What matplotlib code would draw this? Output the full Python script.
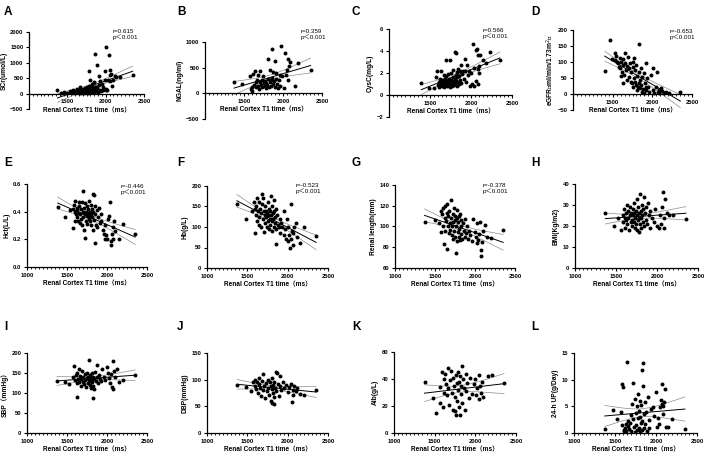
import numpy as np
import matplotlib
matplotlib.use("Agg")
import matplotlib.pyplot as plt
from matplotlib.ticker import MultipleLocator, FixedLocator

plt.rcParams['font.family'] = ['Liberation Sans', 'Noto Sans CJK SC']

# --- data (T1 time in ms, y in panel units) ---
a_x = [1371, 1420, 1460, 1500, 1530, 1560, 1580, 1590, 1600, 1610, 1620, 1630, 1640, 1650, 1655, 1660,
       1670, 1680, 1690, 1700, 1705, 1710, 1720, 1725, 1730, 1740, 1745, 1750, 1755, 1760, 1765, 1770,
       1775, 1780, 1780, 1785, 1790, 1795, 1800, 1800, 1805, 1810, 1815, 1820, 1823, 1825, 1830, 1835,
       1840, 1845, 1850, 1855, 1858, 1860, 1870, 1875, 1880, 1888, 1890, 1900, 1909, 1910, 1920, 1931,
       1940, 1952, 1960, 1970, 1987, 1996, 2000, 2009, 2009, 2017, 2026, 2039, 2052, 2060, 2060, 2073,
       2082, 2100, 2116, 2138, 2190, 2353]
a_y = [130, 20, 60, 30, 90, 40, 120, 60, 20, 100, 150, 50, 80, 10, 130, 60,
       200, 30, 90, 150, 50, 110, 20, 70, 180, 40, 120, 90, 220, 60, 150, 30,
       100, 746, 250, 180, 60, 130, 454, 90, 200, 40, 160, 300, 259, 110, 70, 190,
       130, 368, 50, 230, 1286, 100, 150, 216, 80, 940, 170, 60, 584, 280, 120, 400,
       90, 324, 200, 110, 724, 454, 160, 1524, 130, 108, 454, 1265, 605, 757, 400, 649,
       259, 450, 562, 540, 540, 616]

b_x = [1372, 1479, 1573, 1594, 1598, 1607, 1615, 1624, 1637, 1650, 1658, 1667, 1680, 1684, 1693, 1701,
       1710, 1714, 1727, 1735, 1744, 1752, 1765, 1769, 1782, 1786, 1799, 1808, 1808, 1820, 1829, 1837,
       1842, 1850, 1863, 1863, 1872, 1872, 1884, 1893, 1897, 1914, 1914, 1927, 1936, 1948, 1957, 1966,
       1979, 1991, 2013, 2021, 2043, 2051, 2064, 2064, 2077, 2085, 2150, 2192, 2354]
b_y = [222, 190, 342, 76, 44, 127, 380, 171, 443, 215, 127, 266, 361, 152, 89, 215,
       443, 171, 266, 127, 329, 203, 152, 247, 108, 203, 171, 677, 279, 127, 215, 456,
       253, 152, 867, 298, 424, 190, 234, 633, 127, 393, 279, 190, 108, 266, 361, 152,
       930, 329, 108, 785, 361, 456, 677, 266, 532, 614, 152, 595, 456]

c_x = [1394, 1488, 1545, 1577, 1585, 1600, 1610, 1615, 1620, 1630, 1638, 1640, 1650, 1655, 1660, 1665,
       1670, 1675, 1680, 1685, 1690, 1699, 1700, 1705, 1710, 1715, 1720, 1725, 1730, 1735, 1740, 1742,
       1748, 1750, 1755, 1760, 1765, 1770, 1775, 1780, 1785, 1790, 1795, 1801, 1805, 1810, 1813, 1815,
       1820, 1825, 1830, 1835, 1840, 1845, 1850, 1855, 1860, 1870, 1875, 1880, 1890, 1900, 1910, 1923,
       1930, 1940, 1951, 1960, 1975, 1990, 2000, 2016, 2024, 2032, 2040, 2057, 2065, 2077, 2085, 2085,
       2085, 2097, 2100, 2114, 2146, 2187, 2228, 2353]
c_y = [1.05, 0.62, 0.62, 1.6, 2.2, 0.9, 1.2, 0.7, 1.5, 0.95, 2.15, 1.1, 0.8, 1.4, 1.0, 1.8,
       0.7, 1.2, 1.5, 0.9, 1.1, 3.14, 1.7, 0.8, 1.3, 1.0, 1.9, 1.2, 0.9, 1.5, 3.2, 1.1,
       0.75, 1.4, 2.0, 1.0, 1.3, 0.85, 1.6, 1.1, 2.3, 0.9, 1.2, 3.9, 1.5, 1.0, 3.8, 1.8,
       1.3, 2.1, 0.8, 1.6, 1.2, 2.4, 1.0, 1.7, 2.2, 1.4, 2.7, 1.1, 1.9, 2.2, 1.5, 3.3,
       2.2, 1.2, 2.7, 1.8, 2.2, 0.8, 2.0, 0.99, 4.6, 0.83, 2.5, 1.3, 4.1, 4.2, 3.6, 2.4,
       0.99, 1.97, 2.6, 3.6, 3.2, 2.9, 3.9, 3.2]

d_x = [1400, 1470, 1492, 1525, 1533, 1546, 1554, 1562, 1574, 1587, 1595, 1603, 1607, 1615, 1628, 1636,
       1636, 1644, 1656, 1660, 1669, 1677, 1685, 1697, 1701, 1710, 1718, 1726, 1730, 1738, 1750, 1750,
       1759, 1767, 1771, 1779, 1787, 1791, 1800, 1808, 1812, 1820, 1828, 1832, 1832, 1841, 1849, 1853,
       1861, 1869, 1873, 1882, 1890, 1894, 1902, 1914, 1914, 1923, 1931, 1943, 1964, 1984, 2005, 2013,
       2025, 2046, 2054, 2066, 2078, 2087, 2107, 2128, 2148, 2169, 2210, 2353]
d_y = [73, 169, 110, 127, 106, 119, 100, 96, 85, 111, 80, 101, 56, 70, 91, 108,
       33, 59, 97, 127, 75, 44, 88, 117, 80, 54, 96, 70, 39, 33, 85, 21,
       101, 49, 111, 75, 39, 28, 91, 56, 13, 23, 35, 70, 156, 44, 18, 28,
       80, 7, 54, 15, 65, 4, 33, 96, 21, 13, 49, 23, 7, 59, 80, 13,
       4, 21, 70, 7, 13, 2, 18, 10, 4, 7, 4, 7]

e_x = [1384, 1475, 1540, 1570, 1580, 1590, 1595, 1600, 1605, 1610, 1620, 1625, 1630, 1640, 1645, 1650,
       1655, 1660, 1665, 1670, 1680, 1685, 1690, 1695, 1700, 1705, 1710, 1715, 1720, 1725, 1730, 1735,
       1740, 1745, 1750, 1755, 1760, 1765, 1770, 1775, 1780, 1785, 1790, 1795, 1800, 1805, 1810, 1815,
       1820, 1825, 1830, 1835, 1840, 1845, 1850, 1855, 1860, 1870, 1880, 1890, 1900, 1910, 1920, 1930,
       1950, 1960, 1970, 1980, 1990, 2000, 2010, 2030, 2040, 2045, 2050, 2060, 2070, 2080, 2090, 2100,
       2150, 2200, 2353]
e_y = [0.434, 0.36, 0.41, 0.28, 0.42, 0.45, 0.40, 0.33, 0.48, 0.38, 0.43, 0.36, 0.41, 0.33, 0.47, 0.39,
       0.44, 0.32, 0.38, 0.42, 0.35, 0.47, 0.30, 0.55, 0.40, 0.36, 0.43, 0.27, 0.38, 0.21, 0.46, 0.33,
       0.40, 0.37, 0.44, 0.31, 0.39, 0.42, 0.35, 0.48, 0.37, 0.40, 0.33, 0.45, 0.38, 0.30, 0.42, 0.36,
       0.27, 0.53, 0.40, 0.52, 0.34, 0.44, 0.38, 0.17, 0.30, 0.41, 0.29, 0.36, 0.43, 0.32, 0.38, 0.33,
       0.27, 0.24, 0.30, 0.20, 0.23, 0.20, 0.35, 0.37, 0.47, 0.16, 0.19, 0.24, 0.29, 0.20, 0.33, 0.26,
       0.20, 0.31, 0.24]

f_x = [1370, 1480, 1560, 1580, 1590, 1600, 1605, 1610, 1620, 1625, 1630, 1640, 1645, 1650, 1660, 1665,
       1670, 1680, 1685, 1690, 1700, 1705, 1710, 1715, 1720, 1725, 1730, 1735, 1740, 1745, 1750, 1755,
       1760, 1765, 1770, 1775, 1780, 1785, 1790, 1795, 1800, 1805, 1810, 1815, 1820, 1825, 1830, 1835,
       1840, 1845, 1850, 1855, 1860, 1870, 1880, 1890, 1900, 1910, 1920, 1930, 1950, 1960, 1970, 1980,
       1990, 2000, 2010, 2020, 2030, 2040, 2045, 2050, 2060, 2070, 2080, 2100, 2120, 2150, 2200, 2353]
f_y = [155, 120, 140, 160, 145, 85, 130, 150, 170, 115, 140, 105, 160, 125, 145, 100,
       135, 180, 155, 120, 170, 140, 88, 130, 110, 150, 125, 140, 100, 135, 160, 115,
       130, 145, 95, 120, 140, 105, 175, 130, 115, 150, 90, 135, 120, 165, 100, 140,
       125, 110, 58, 145, 95, 130, 105, 100, 120, 85, 110, 100, 140, 80, 95, 70,
       120, 65, 100, 80, 50, 155, 70, 90, 55, 85, 100, 110, 75, 60, 100, 78]

g_x = [1370, 1500, 1550, 1570, 1580, 1590, 1600, 1605, 1610, 1620, 1625, 1630, 1640, 1645, 1650, 1655,
       1660, 1665, 1670, 1680, 1685, 1690, 1700, 1705, 1710, 1715, 1720, 1725, 1730, 1735, 1740, 1745,
       1750, 1755, 1760, 1765, 1770, 1775, 1780, 1785, 1790, 1795, 1800, 1805, 1810, 1815, 1820, 1825,
       1830, 1840, 1850, 1860, 1870, 1880, 1890, 1900, 1910, 1920, 1940, 1960, 1980, 2000, 2010, 2020,
       2030, 2040, 2050, 2060, 2070, 2080, 2090, 2100, 2120, 2150, 2200, 2353]
g_y = [104, 106, 103, 115, 95, 112, 118, 100, 83, 108, 120, 96, 105, 113, 78, 122,
       100, 110, 94, 115, 103, 97, 108, 126, 100, 92, 112, 104, 88, 118, 96, 106,
       90, 110, 74, 100, 108, 86, 116, 95, 104, 90, 110, 98, 87, 112, 100, 93,
       106, 88, 103, 96, 90, 107, 94, 100, 88, 96, 92, 86, 107, 95, 90, 84,
       103, 87, 93, 104, 77, 72, 85, 96, 101, 90, 89, 97]

h_x = [1370, 1480, 1520, 1560, 1580, 1590, 1600, 1605, 1610, 1620, 1625, 1630, 1640, 1645, 1650, 1660,
       1665, 1670, 1680, 1685, 1690, 1700, 1705, 1710, 1715, 1720, 1725, 1730, 1735, 1740, 1745, 1750,
       1755, 1760, 1765, 1770, 1775, 1780, 1785, 1790, 1795, 1800, 1805, 1810, 1815, 1820, 1825, 1830,
       1840, 1845, 1850, 1860, 1870, 1880, 1890, 1900, 1910, 1920, 1940, 1960, 1980, 2000, 2020, 2040,
       2050, 2060, 2070, 2080, 2090, 2100, 2120, 2150, 2200, 2353]
h_y = [26.3, 20, 24, 18, 25, 22, 28, 24, 19, 26, 23, 30, 21, 27, 24, 18,
       25, 29, 22, 26, 23, 20, 28, 25, 31, 22, 26, 19, 24, 27, 21, 33,
       25, 18, 29, 23, 26, 17, 24, 35, 21, 27, 24, 19, 30, 25, 22, 28,
       34, 20, 26, 23, 29, 21, 31, 25, 19, 27, 24, 22, 28, 20, 19, 25,
       21, 29, 36, 19, 24, 33, 26, 25, 25, 23.5]

i_x = [1375, 1480, 1530, 1570, 1590, 1600, 1610, 1620, 1625, 1630, 1640, 1650, 1655, 1660, 1670, 1680,
       1690, 1700, 1705, 1710, 1720, 1730, 1740, 1745, 1750, 1760, 1765, 1770, 1780, 1785, 1790, 1795,
       1800, 1805, 1810, 1815, 1820, 1825, 1830, 1835, 1840, 1850, 1860, 1870, 1880, 1890, 1900, 1910,
       1920, 1940, 1960, 1980, 2000, 2010, 2020, 2040, 2050, 2060, 2070, 2080, 2090, 2100, 2120, 2150,
       2200, 2353]
i_y = [130, 128, 122, 140, 168, 132, 145, 90, 125, 150, 136, 160, 128, 142, 118, 135,
       155, 128, 140, 122, 147, 132, 115, 138, 150, 126, 140, 133, 182, 120, 145, 130,
       137, 113, 150, 128, 141, 118, 88, 135, 110, 152, 130, 140, 170, 125, 145, 135,
       130, 160, 140, 133, 165, 150, 138, 125, 148, 115, 110, 180, 155, 140, 160, 128,
       133, 145]

j_x = [1375, 1480, 1540, 1570, 1590, 1600, 1610, 1620, 1630, 1640, 1650, 1660, 1670, 1680, 1690, 1700,
       1710, 1720, 1730, 1740, 1750, 1760, 1770, 1780, 1790, 1795, 1800, 1805, 1810, 1815, 1820, 1825,
       1830, 1835, 1840, 1850, 1860, 1870, 1880, 1890, 1900, 1910, 1920, 1940, 1960, 1980, 2000, 2020,
       2040, 2050, 2060, 2070, 2080, 2100, 2120, 2150, 2200, 2353]
j_y = [90, 86, 78, 95, 100, 88, 82, 96, 75, 92, 104, 85, 70, 97, 110, 80,
       88, 65, 93, 78, 100, 85, 72, 95, 60, 88, 56, 82, 103, 75, 90, 68,
       95, 54, 85, 115, 78, 112, 92, 70, 88, 106, 80, 96, 84, 90, 76, 86,
       92, 59, 80, 72, 88, 78, 85, 73, 71, 80]

k_x = [1375, 1480, 1520, 1560, 1570, 1590, 1600, 1610, 1620, 1630, 1640, 1650, 1660, 1670, 1680, 1690,
       1700, 1710, 1720, 1730, 1740, 1745, 1750, 1760, 1765, 1770, 1780, 1785, 1790, 1800, 1805, 1810,
       1815, 1820, 1825, 1830, 1840, 1850, 1860, 1870, 1880, 1890, 1900, 1920, 1940, 1960, 1980, 2000,
       2010, 2020, 2040, 2050, 2060, 2070, 2080, 2100, 2150, 2200, 2353]
k_y = [38, 26, 15, 34, 22, 45, 19, 40, 30, 44, 36, 28, 48, 33, 21, 39,
       46, 30, 17, 41, 35, 16, 27, 43, 13, 37, 24, 45, 32, 38, 19, 42,
       13, 29, 35, 50, 22, 40, 33, 17, 44, 31, 37, 26, 41, 29, 36, 40,
       28, 33, 43, 25, 35, 30, 38, 27, 42, 43, 37]

l_x = [1375, 1480, 1530, 1570, 1580, 1590, 1600, 1605, 1610, 1620, 1630, 1640, 1650, 1655, 1660, 1670,
       1680, 1690, 1700, 1710, 1720, 1725, 1730, 1740, 1745, 1750, 1760, 1765, 1770, 1780, 1785, 1790,
       1795, 1800, 1805, 1810, 1815, 1820, 1825, 1830, 1835, 1840, 1845, 1850, 1855, 1860, 1870, 1880,
       1890, 1900, 1910, 1920, 1940, 1960, 1980, 2000, 2010, 2020, 2040, 2050, 2060, 2070, 2075, 2080,
       2090, 2095, 2110, 2120, 2150, 2200, 2353]
l_y = [0.8, 4.3, 2.6, 4.0, 9.2, 1.5, 8.6, 0.5, 0.4, 1.0, 1.7, 0.3, 13.4, 2.2, 1.3, 0.8,
       1.8, 3.3, 0.4, 5.5, 9.3, 2.7, 1.2, 6.3, 0.2, 3.8, 1.5, 5.0, 0.6, 7.4, 2.8, 1.0,
       4.2, 0.3, 3.0, 6.0, 1.9, 5.3, 0.5, 11.9, 2.3, 13.2, 8.8, 3.5, 0.9, 5.8, 1.6, 4.0,
       0.4, 6.8, 2.5, 1.0, 4.5, 4.8, 3.2, 7.6, 1.1, 2.8, 1.6, 4.8, 6.2, 9.2, 5.5, 5.0,
       3.6, 5.8, 8.3, 1.2, 1.2, 2.7, 0.7]

letters = ['A', 'B', 'C', 'D', 'E', 'F', 'G', 'H', 'I', 'J', 'K', 'L']
ylabels = ['SCr(umol/L)', 'NGAL(ng/ml)', 'CysC(mg/L)', 'eGFR（ml/min/1.73m$^2$）',
           'Hct(L/L)', 'Hb(g/L)', 'Renal length(mm)', 'BMI(Kg/m2)',
           'SBP（mmHg）', 'DBP(mmHg)', 'Alb(g/L)', '24-h UP(g/Day)']
stats = ['r=0.615\np＜0.001', 'r=0.359\np＜0.001', 'r=0.566\np＜0.001', 'r=-0.653\np＜0.001',
         'r=-0.446\np＜0.001', 'r=-0.523\np＜0.001', 'r=-0.378\np＜0.001', None,
         None, None, None, None]
yticks = [[-500, 0, 500, 1000, 1500, 2000], [-500, 0, 500, 1000], [-2, 0, 2, 4, 6],
          [-50, 0, 50, 100, 150, 200], [0.0, 0.2, 0.4, 0.6], [0, 50, 100, 150, 200],
          [60, 80, 100, 120, 140], [0, 10, 20, 30, 40], [0, 50, 100, 150, 200],
          [0, 50, 100, 150], [0, 20, 40, 60], [0, 5, 10, 15]]
xs = [a_x, b_x, c_x, d_x, e_x, f_x, g_x, h_x, i_x, j_x, k_x, l_x]
ys = [a_y, b_y, c_y, d_y, e_y, f_y, g_y, h_y, i_y, j_y, k_y, l_y]

# axes boxes in pixels: left, top, right, bottom (top-left origin)
boxes = [(29, 32, 144, 109), (205, 42, 322, 119), (389, 29, 512, 117), (573, 30, 692, 110),
         (27, 184, 147, 267), (207, 186, 328, 268), (395, 185, 515, 268), (575, 184, 698, 268),
         (27, 353, 147, 433), (207, 353, 328, 433), (394, 352, 516, 433), (574, 353, 697, 433)]
letter_pos = [(4, 6), (177, 6), (352, 6), (531, 6), (4, 157), (177, 157), (352, 157), (531, 157),
              (4, 321), (177, 321), (352, 321), (531, 321)]
stat_pos = [(113, 29), (301, 29), (483, 28), (670, 29), (121, 184), (296, 183), (483, 183)]

W, H = 708, 463
fig = plt.figure(figsize=(W / 100, H / 100), dpi=100)

for i in range(12):
    l, t, r, b = boxes[i]
    ax = fig.add_axes([l / W, 1 - b / H, (r - l) / W, (b - t) / H])
    x = np.array(xs[i], dtype=float)
    y = np.array(ys[i], dtype=float)

    ax.scatter(x, y, s=8, color='black', linewidths=0, zorder=3)

    # linear fit with 95% confidence band
    slope, icpt = np.polyfit(x, y, 1)
    xx = np.linspace(x.min(), x.max(), 100)
    yy = slope * xx + icpt
    n = len(x)
    resid = y - (slope * x + icpt)
    s_err = np.sqrt(np.sum(resid ** 2) / (n - 2))
    sxx = np.sum((x - x.mean()) ** 2)
    ci = 1.98 * s_err * np.sqrt(1 / n + (xx - x.mean()) ** 2 / sxx)
    ax.plot(xx, yy, color='black', lw=0.7, zorder=2)
    ax.plot(xx, yy + ci, color='#8c8c8c', lw=0.5, zorder=2)
    ax.plot(xx, yy - ci, color='#8c8c8c', lw=0.5, zorder=2)

    yt = yticks[i]
    ax.set_xlim(1000, 2500)
    ax.set_ylim(yt[0], yt[-1])
    for side in ['top', 'right']:
        ax.spines[side].set_visible(False)
    for side in ['left', 'bottom']:
        ax.spines[side].set_linewidth(0.9)
    if i < 4:
        ax.spines['bottom'].set_position(('data', 0))
        ax.xaxis.set_major_locator(FixedLocator([1500, 2000, 2500]))
    else:
        ax.xaxis.set_major_locator(MultipleLocator(500))
    ax.xaxis.set_minor_locator(MultipleLocator(50))
    ax.yaxis.set_major_locator(FixedLocator(yt))
    if i == 4:
        ax.set_yticklabels(['%.1f' % v for v in yt])
    ax.tick_params(axis='both', which='major', length=2.5, width=0.8, labelsize=4.2, pad=1.5)
    ax.tick_params(axis='x', which='minor', length=1.5, width=0.6)
    for lab in ax.get_xticklabels() + ax.get_yticklabels():
        lab.set_fontweight('bold')

    ax.set_xlabel('Renal Cortex T1 time（ms）', fontsize=4.7, fontweight='bold', labelpad=2)
    ax.set_ylabel(ylabels[i], fontsize=4.8, fontweight='bold', labelpad=2)

    lx, ly = letter_pos[i]
    fig.text(lx / W, 1 - ly / H, letters[i], fontsize=8.5, fontweight='bold', va='top', ha='left')
    if stats[i] is not None:
        sx, sy = stat_pos[i]
        fig.text(sx / W, 1 - sy / H, stats[i], fontsize=4.5, va='top', ha='left', linespacing=1.1)

fig.savefig('out.png', dpi=100)
